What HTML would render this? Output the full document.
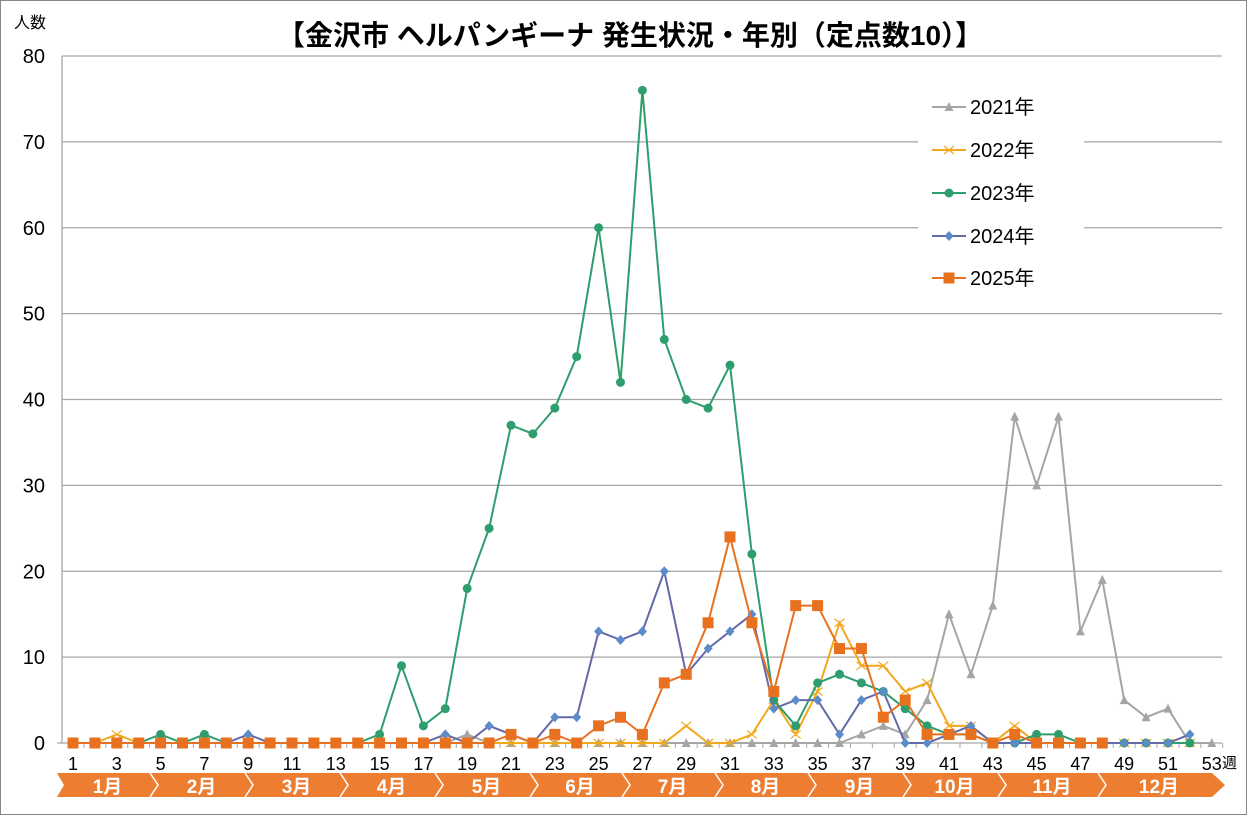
<!DOCTYPE html>
<html><head><meta charset="utf-8"><style>
html,body{margin:0;padding:0;background:#fff;}
svg{display:block;font-family:"Liberation Sans","Noto Sans CJK JP",sans-serif;}
</style></head><body>
<svg id="c" width="1247" height="815" viewBox="0 0 1247 815" xmlns="http://www.w3.org/2000/svg">
<rect x="0.5" y="0.5" width="1246" height="814" fill="#fff" stroke="#888"/>
<text x="630" y="45" font-size="28" font-weight="bold" text-anchor="middle" fill="#000">【金沢市 ヘルパンギーナ 発生状況・年別（定点数10）】</text>
<text x="14" y="28" font-size="16" fill="#000">人数</text>
<g id="grid"></g>
<g id="series"></g>
<rect x="918" y="85" width="166" height="215" fill="#fff"/>
<g id="legend"></g>
<g id="months"></g>
</svg>
<script>
var NS="http://www.w3.org/2000/svg";
function el(t,a,p,txt){var e=document.createElementNS(NS,t);for(var k in a)e.setAttribute(k,a[k]);if(txt!=null)e.textContent=txt;(p||document.getElementById('c')).appendChild(e);return e;}
var X0=62,X1=1222,Y0=743,S=8.5875;
function X(w){return 73+(w-1)*21.9;}
function Y(v){return Y0-v*S;}
var g=document.getElementById('grid');
for(var i=0;i<=8;i++){var y=Y(i*10);
 if(i>0)el('line',{x1:X0,x2:X1,y1:y,y2:y,stroke:'#a6a6a6','stroke-width':1.3},g);
 el('text',{x:45,y:y+7,'font-size':20,'text-anchor':'end',fill:'#000'},g,i*10);}
el('line',{x1:X0,x2:X0,y1:56,y2:Y0,stroke:'#a6a6a6','stroke-width':1.3},g);
el('line',{x1:X0-5,x2:X1,y1:Y0,y2:Y0,stroke:'#a6a6a6','stroke-width':1.3},g);
for(var w=1;w<=53;w++){var x=X(w)+10.95;el('line',{x1:x,x2:x,y1:Y0,y2:Y0+5,stroke:'#a6a6a6'},g);
 if(w%2==1)el('text',{x:X(w),y:770,'font-size':18,'text-anchor':'middle',fill:'#000'},g,w);}
el('text',{x:1222,y:768,'font-size':15,fill:'#000'},g,'週');
function arr(n,o){var a=[];for(var i=1;i<=n;i++)a.push(o[i]||0);return a;}
var d21=arr(53,{19:1,37:1,38:2,39:1,40:5,41:15,42:8,43:16,44:38,45:30,46:38,47:13,48:19,49:5,50:3,51:4});
var d22=arr(52,{3:1,29:2,32:1,33:5,34:1,35:6,36:14,37:9,38:9,39:6,40:7,41:2,42:2,44:2});
var d23=arr(52,{5:1,7:1,15:1,16:9,17:2,18:4,19:18,20:25,21:37,22:36,23:39,24:45,25:60,26:42,27:76,28:47,29:40,30:39,31:44,32:22,33:5,34:2,35:7,36:8,37:7,38:6,39:4,40:2,41:1,42:1,45:1,46:1});
var d24=arr(52,{9:1,18:1,20:2,21:1,23:3,24:3,25:13,26:12,27:13,28:20,29:8,30:11,31:13,32:15,33:4,34:5,35:5,36:1,37:5,38:6,41:1,42:2,52:1});
var d25=arr(48,{21:1,23:1,25:2,26:3,27:1,28:7,29:8,30:14,31:24,32:14,33:6,34:16,35:16,36:11,37:11,38:3,39:5,40:1,41:1,42:1,44:1});
var sg=document.getElementById('series');
function marker(t,x,y,c,p){
 if(t=='tri')el('polygon',{points:(x-4.5)+','+(y+4)+' '+(x+4.5)+','+(y+4)+' '+x+','+(y-5),fill:c},p);
 else if(t=='x'){el('path',{d:'M'+(x-5)+' '+(y-4)+'L'+(x+5)+' '+(y+4)+'M'+(x-5)+' '+(y+4)+'L'+(x+5)+' '+(y-4),stroke:c,'stroke-width':1.2,fill:'none'},p);}
 else if(t=='dot')el('circle',{cx:x,cy:y,r:4.5,fill:c},p);
 else if(t=='dia')el('polygon',{points:x+','+(y-5)+' '+(x+4.5)+','+y+' '+x+','+(y+5)+' '+(x-4.5)+','+y,fill:c},p);
 else if(t=='sq')el('rect',{x:x-5.5,y:y-5.5,width:11,height:11,fill:c},p);}
var ser=[[d21,'#a5a5a5','tri'],[d22,'#f2a81d','x'],[d23,'#2e9e6e','dot'],[d24,'#6469a8','dia'],[d25,'#e8711f','sq']];
var mcol={'dia':'#5b8bc9'};
ser.forEach(function(s){var pts=s[0].map(function(v,i){return X(i+1)+','+Y(v);}).join(' ');
 el('polyline',{points:pts,fill:'none',stroke:s[1],'stroke-width':2},sg);
 s[0].forEach(function(v,i){marker(s[2],X(i+1),Y(v),mcol[s[2]]||s[1],sg);});});
var lg=document.getElementById('legend');
['2021年','2022年','2023年','2024年','2025年'].forEach(function(t,i){var y=[107,150,193,236,278][i],s=ser[i];
 el('line',{x1:932,x2:966,y1:y,y2:y,stroke:s[1],'stroke-width':2},lg);marker(s[2],949,y,mcol[s[2]]||s[1],lg);
 el('text',{x:970,y:y+7,'font-size':20,fill:'#000'},lg,t);});
var mg=document.getElementById('months');
var b=[57,150,245,340,435,530,622,715,808,903,998,1098,1212];
el('polygon',{points:'57,773 1212,773 1225,785 1212,797 57,797 64,785',fill:'#ed7d31'},mg);
for(var i=1;i<12;i++){var x=b[i];el('polyline',{points:(x)+',773 '+(x+8)+',785 '+x+',797',fill:'none',stroke:'#fff','stroke-width':1.5},mg);}
for(var i=0;i<12;i++){el('text',{x:(b[i]+b[i+1])/2+4,y:793,'font-size':19,'font-weight':'bold','text-anchor':'middle',fill:'#fff'},mg,(i+1)+'月');}
</script>
</body></html>
